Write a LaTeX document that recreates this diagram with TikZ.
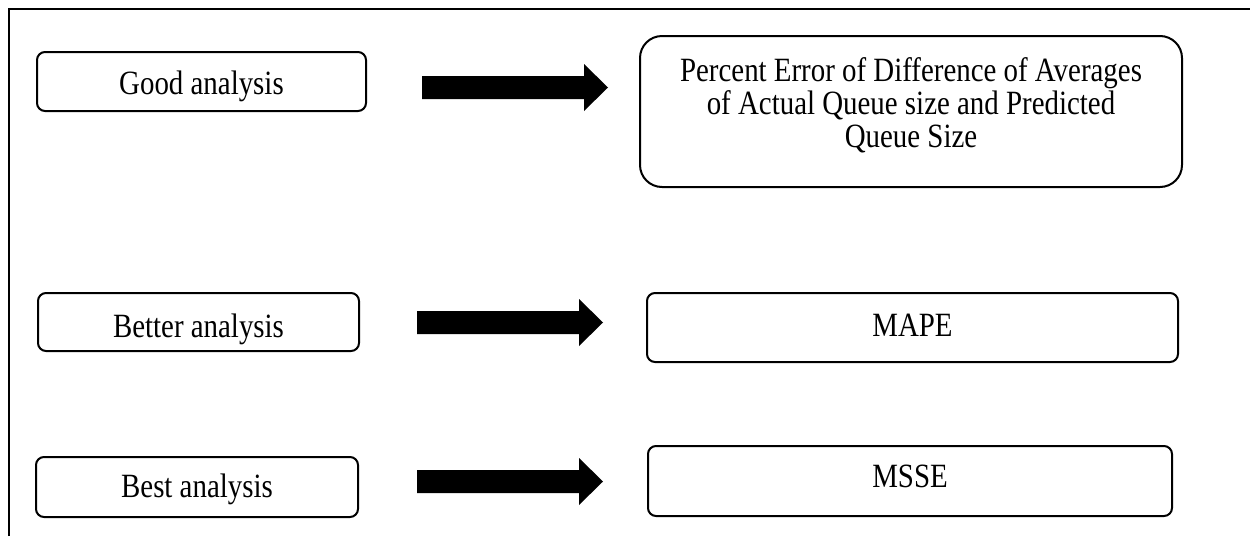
\documentclass[tikz,border=0pt]{standalone}
\usepackage{fontspec}
\setmainfont{Liberation Serif}[FakeStretch=0.85]
\begin{document}
\begin{tikzpicture}[x=1pt,y=-1pt,
  box/.style={draw, line width=2pt, rounded corners=8pt, inner sep=0pt,
    align=center, font=\fontsize{34}{33}\selectfont},
  % single-line text: baseline sits #1/2 below the box centre
  baseline at/.style={text height=#1, text depth=0pt},
  blockarrow/.pic={\fill (0,-11.5) -- (162,-11.5) -- (162,-23.5) -- (186,0)
    -- (162,23.5) -- (162,11.5) -- (0,11.5) -- cycle;}
]
\useasboundingbox (0,0) rectangle (1250,536);

% open frame: left and top edges only
\draw[line width=2pt] (9,536) -- (9,9) -- (1250,9);

% quality levels
\node[box, baseline at=25pt, minimum width=329pt, minimum height=59pt] (good)   at (201.5,81.5) {Good analysis};
\node[box, baseline at=30pt, minimum width=321pt, minimum height=58pt] (better) at (198.5,322)  {Better analysis};
\node[box, baseline at=20pt, minimum width=322pt, minimum height=60pt] (best)   at (197,487)    {Best analysis};

% error measures
\node[box, rounded corners=22pt, minimum width=542pt, minimum height=151pt] (pe) at (911,111.5)
  {Percent Error of Difference of Averages\\of Actual Queue size and Predicted\\Queue Size\rule[-18pt]{0pt}{18pt}};
\node[box, baseline at=17pt, minimum width=531pt, minimum height=69pt] (mape) at (912.5,327.5) {MAPE};
\node[box, baseline at=12pt, minimum width=524pt, minimum height=70pt] (msse) at (910,481)    {MSSE};

% block arrows between the columns
\coordinate (a1) at (422,87.5);
\coordinate (a2) at (417,322.5);
\coordinate (a3) at (417,481.5);
\pic at (a1) {blockarrow};
\pic at (a2) {blockarrow};
\pic at (a3) {blockarrow};
\end{tikzpicture}
\end{document}
